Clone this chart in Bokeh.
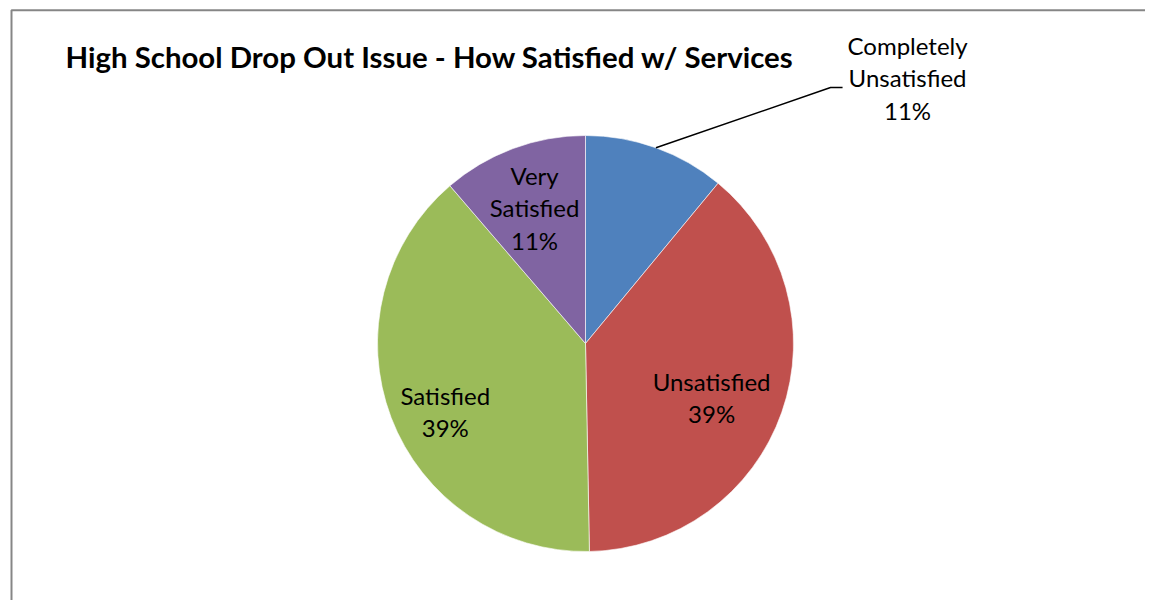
import math
from bokeh.plotting import figure
from bokeh.models import Range1d, ColumnDataSource
from bokeh.core.properties import value
from bokeh.embed import file_html
from bokeh.resources import INLINE

# ---- data ----
categories = ["Completely Unsatisfied", "Unsatisfied", "Satisfied", "Very Satisfied"]
shares = [11.0, 38.7, 39.0, 11.3]
colors = ["#4F81BD", "#C0504D", "#9BBB59", "#8064A2"]
title = "High School Drop Out Issue - How Satisfied w/ Services"

# ---- layout / style ----
W, H = 1145, 600
CX, CY, R = 585, H - 343, 208
FONT = "Lato"
LABEL_SIZE = 24
TITLE_SIZE = 29.4
LINE_HEIGHT = 1.11
LABEL_DY = 2.5
# inside-label placement: (angle shift in degrees, radius fraction); None = callout outside
label_place = [None, (4.8, 0.664), (-5.9, 0.755), (-0.6, 0.685)]
callout_elbow = (174.6, 60.3)
callout_tail = 12
callout_text_offset = (77, 7)  # relative to elbow

p = figure(width=W, height=H, output_backend="svg", toolbar_location=None,
           x_range=Range1d(0, W), y_range=Range1d(0, H), min_border=0,
           outline_line_color=None)
p.axis.visible = False
p.grid.visible = False
p.background_fill_color = "white"
p.border_fill_color = "white"

# chart area border (top and left edges visible)
p.line(x=[11, 11, W + 10], y=[-10, H - 9.8, H - 9.8], line_color="#868686", line_width=2)

total = sum(shares)
starts, ends, mids = [], [], []
cum = 0.0
for s in shares:
    a0 = cum / total * 360.0
    cum += s
    a1 = cum / total * 360.0
    starts.append(a0); ends.append(a1); mids.append((a0 + a1) / 2)

src = ColumnDataSource(dict(
    start=[math.radians(90 - a) for a in starts],
    end=[math.radians(90 - a) for a in ends],
    color=colors, cat=categories))
p.wedge(x=CX, y=CY, radius=R, start_angle="start", end_angle="end", direction="clock",
        fill_color="color", line_color="white", line_width=0.6, source=src)

# labels
for i, (cat, s) in enumerate(zip(categories, shares)):
    pct = f"{round(s / total * 100):d}%"
    words = cat.split(" ")
    txt = "\n".join(words + [pct])
    if label_place[i] is None:
        th = math.radians(mids[i])
        x0, y0 = CX + R * math.sin(th), CY + R * math.cos(th)
        ex, ey = x0 + callout_elbow[0], y0 + callout_elbow[1]
        p.line(x=[x0, ex, ex + callout_tail], y=[y0, ey, ey], line_color="black", line_width=1.5)
        tx, ty = ex + callout_text_offset[0], ey + callout_text_offset[1]
    else:
        sh, fr = label_place[i]
        th = math.radians(mids[i] + sh)
        tx, ty = CX + fr * R * math.sin(th), CY + fr * R * math.cos(th)
    p.text(x=[tx], y=[ty + LABEL_DY], text=[txt], text_align="center", text_baseline="middle",
           text_font=value(FONT), text_font_size=f"{LABEL_SIZE}px",
           text_line_height=LINE_HEIGHT, text_color="black")

p.text(x=[65], y=[H - 56], text=[title], text_align="left", text_baseline="middle",
       text_font=value(FONT), text_font_style="bold", text_font_size=f"{TITLE_SIZE}px",
       text_color="black")

open("out.html", "w").write(file_html(p, INLINE))
